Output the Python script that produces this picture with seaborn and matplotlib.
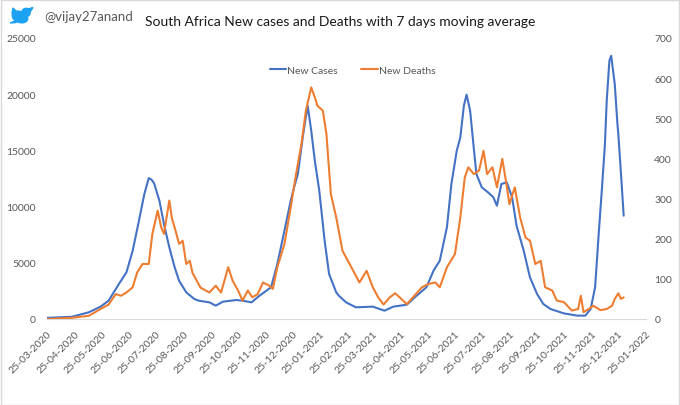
import matplotlib
matplotlib.use("Agg")
import matplotlib.pyplot as plt
import matplotlib.dates as mdates
from matplotlib.patches import Rectangle, Ellipse, Circle, Polygon
import numpy as np
import pandas as pd
import seaborn as sns

# --- data (7-day moving averages) ---
case_dates = [
    "2020-03-25", "2020-04-22", "2020-05-11", "2020-05-24", "2020-06-02", "2020-06-14",
    "2020-06-22", "2020-06-29", "2020-07-06", "2020-07-12", "2020-07-17", "2020-07-20",
    "2020-07-23", "2020-07-29", "2020-08-03", "2020-08-09", "2020-08-15", "2020-08-20",
    "2020-08-28", "2020-09-06", "2020-09-11", "2020-09-23", "2020-09-30", "2020-10-08",
    "2020-10-23", "2020-10-30", "2020-11-09", "2020-11-18", "2020-12-01", "2020-12-08",
    "2020-12-16", "2020-12-23", "2020-12-27", "2020-12-31", "2021-01-06", "2021-01-11",
    "2021-01-15", "2021-01-19", "2021-01-24", "2021-01-30", "2021-02-04", "2021-02-12",
    "2021-02-15", "2021-02-23", "2021-03-06", "2021-03-25", "2021-04-07", "2021-04-17",
    "2021-05-02", "2021-05-13", "2021-05-24", "2021-06-01", "2021-06-08", "2021-06-16",
    "2021-06-21", "2021-06-27", "2021-07-01", "2021-07-05", "2021-07-08", "2021-07-12",
    "2021-07-16", "2021-07-19", "2021-07-25", "2021-08-01", "2021-08-07", "2021-08-11",
    "2021-08-16", "2021-08-22", "2021-08-28", "2021-09-02", "2021-09-10", "2021-09-17",
    "2021-09-25", "2021-10-02", "2021-10-10", "2021-10-25", "2021-11-09", "2021-11-18",
    "2021-11-24", "2021-11-29", "2021-12-03", "2021-12-07", "2021-12-10", "2021-12-12",
    "2021-12-15", "2021-12-17", "2021-12-21", "2021-12-24", "2021-12-25", "2021-12-28",
    "2021-12-31",
]
case_values = [
    100, 200, 600, 1100, 1630, 3170,
    4150, 6080, 8750, 11100, 12540, 12400,
    12070, 10500, 8450, 6380, 4600, 3400,
    2370, 1780, 1630, 1480, 1190, 1540,
    1690, 1630, 1480, 2070, 2820, 4890,
    7860, 10520, 11770, 12900, 16460, 18980,
    16750, 14090, 11420, 6970, 4000, 2370,
    2070, 1480, 1040, 1100, 740, 1100,
    1270, 2070, 2820, 4300, 5190, 8160,
    12010, 14970, 16160, 18980, 19960, 18530,
    15270, 12900, 11720, 11270, 10830, 10080,
    12010, 12160, 10830, 8300, 6080, 3710,
    2220, 1330, 890, 500, 300, 300,
    890, 2820, 7560, 12010, 15570, 19420,
    22980, 23420, 20900, 17350, 16460, 12900,
    9190,
]

death_dates = [
    "2020-03-25", "2020-04-22", "2020-05-11", "2020-05-24", "2020-06-02", "2020-06-10",
    "2020-06-16", "2020-06-22", "2020-06-29", "2020-07-04", "2020-07-10", "2020-07-17",
    "2020-07-21", "2020-07-27", "2020-07-31", "2020-08-03", "2020-08-09", "2020-08-12",
    "2020-08-15", "2020-08-20", "2020-08-24", "2020-08-28", "2020-09-01", "2020-09-04",
    "2020-09-13", "2020-09-23", "2020-09-30", "2020-10-06", "2020-10-14", "2020-10-19",
    "2020-10-25", "2020-10-30", "2020-11-05", "2020-11-10", "2020-11-16", "2020-11-22",
    "2020-11-29", "2020-12-03", "2020-12-08", "2020-12-16", "2020-12-23", "2020-12-29",
    "2021-01-04", "2021-01-09", "2021-01-15", "2021-01-19", "2021-01-22", "2021-01-28",
    "2021-02-01", "2021-02-06", "2021-02-12", "2021-02-19", "2021-02-27", "2021-03-10",
    "2021-03-18", "2021-03-25", "2021-03-31", "2021-04-06", "2021-04-13", "2021-04-19",
    "2021-04-24", "2021-05-02", "2021-05-09", "2021-05-19", "2021-05-26", "2021-06-03",
    "2021-06-08", "2021-06-16", "2021-06-25", "2021-07-01", "2021-07-06", "2021-07-10",
    "2021-07-16", "2021-07-22", "2021-07-27", "2021-07-31", "2021-08-06", "2021-08-11",
    "2021-08-17", "2021-08-21", "2021-08-25", "2021-08-31", "2021-09-06", "2021-09-12",
    "2021-09-17", "2021-09-23", "2021-09-29", "2021-10-04", "2021-10-12", "2021-10-17",
    "2021-10-25", "2021-11-03", "2021-11-10", "2021-11-13", "2021-11-16", "2021-11-22",
    "2021-11-27", "2021-12-05", "2021-12-12", "2021-12-18", "2021-12-21", "2021-12-25",
    "2021-12-28", "2021-12-31",
]
death_values = [
    0, 3, 8, 25, 36, 62,
    58, 66, 79, 116, 137, 137,
    212, 270, 228, 212, 295, 250,
    228, 187, 195, 137, 145, 115,
    78, 66, 83, 66, 129, 95,
    71, 46, 71, 54, 62, 91,
    83, 75, 129, 187, 278, 361,
    436, 519, 577, 552, 531, 519,
    461, 311, 253, 170, 137, 91,
    120, 79, 54, 36, 54, 64,
    54, 37, 54, 79, 87, 91,
    79, 129, 162, 253, 353, 378,
    361, 370, 419, 361, 378, 328,
    399, 345, 286, 328, 253, 203,
    195, 137, 145, 79, 71, 46,
    42, 21, 25, 58, 17, 25,
    33, 22, 25, 33, 50, 64,
    50, 54,
]

cases = pd.DataFrame({"date": pd.to_datetime(case_dates), "cases": case_values})
deaths = pd.DataFrame({"date": pd.to_datetime(death_dates), "deaths": death_values})

blue = "#4472C4"
orange = "#ED7D31"
grey = "#595959"

sns.set_style("white")
plt.rcParams["font.family"] = ["Lato", "DejaVu Sans"]

fig = plt.figure(figsize=(6.8, 4.06), dpi=100)
ax = fig.add_axes([47 / 680, 86 / 406, 599 / 680, 281 / 406])
ax2 = ax.twinx()

sns.lineplot(data=cases, x="date", y="cases", ax=ax, color=blue, linewidth=1.5,
             label="New Cases", legend=False)
sns.lineplot(data=deaths, x="date", y="deaths", ax=ax2, color=orange, linewidth=1.5,
             label="New Deaths", legend=False)

ax.set_ylim(0, 25000)
ax.set_yticks(range(0, 25001, 5000))
ax2.set_ylim(0, 700)
ax2.set_yticks(range(0, 701, 100))

month_ticks = pd.date_range("2020-03-01", periods=23, freq="MS") + pd.Timedelta(days=24)
ax.set_xlim(month_ticks[0], month_ticks[-1])
ax.set_xticks(month_ticks)
ax.xaxis.set_major_formatter(mdates.DateFormatter("%d-%m-%Y"))
for lab in ax.get_xticklabels():
    lab.set_rotation(45)
    lab.set_ha("right")
    lab.set_rotation_mode("anchor")

for a in (ax, ax2):
    a.set_xlabel("")
    a.set_ylabel("")
    for s in a.spines.values():
        s.set_visible(False)
    a.grid(False)
ax.spines["bottom"].set_visible(True)
ax.spines["bottom"].set_color("#d9d9d9")
ax.tick_params(axis="x", length=5, color="#d9d9d9", labelsize=7.5, labelcolor=grey, pad=2)
ax.tick_params(axis="y", length=0, labelsize=7.5, labelcolor=grey, pad=8)
ax2.tick_params(axis="y", length=0, labelsize=7.5, labelcolor=grey, pad=6)

h1, l1 = ax.get_legend_handles_labels()
h2, l2 = ax2.get_legend_handles_labels()
ax2.legend(h1 + h2, l1 + l2, loc="center", bbox_to_anchor=(0.51, 0.886), ncol=2,
           frameon=False, fontsize=7.5, handlelength=1.6, handletextpad=0.1,
           columnspacing=2.2, labelcolor=grey)

fig.text(0.5, 1 - 22 / 406, "South Africa New cases and Deaths with 7 days moving average",
         ha="center", va="center", fontsize=10, color="#1a1a1a")
fig.text(44 / 680, 1 - 17 / 406, "@vijay27anand", ha="left", va="center",
         fontsize=9.5, color=grey)

# rough twitter bird
bird = fig.add_axes([8 / 680, 1 - 28 / 406, 26 / 680, 22 / 406])
bird.set_xlim(0, 26)
bird.set_ylim(0, 22)
bird.axis("off")
tw = "#1DA1F2"
bird.add_patch(Ellipse((12, 10), 16, 11, angle=-20, color=tw))
bird.add_patch(Circle((18, 14.5), 4.2, color=tw))
bird.add_patch(Polygon([[20, 18], [25, 19.5], [22, 15]], color=tw))
bird.add_patch(Polygon([[4, 14], [12, 12], [5, 19]], color=tw))
bird.add_patch(Polygon([[2, 4], [10, 7], [8, 4.5]], color=tw))

fig.patches.append(Rectangle((0.001, 0.001), 0.997, 0.996, transform=fig.transFigure,
                             fill=False, edgecolor="#d9d9d9", linewidth=1))

fig.savefig("out.png", dpi=100)
